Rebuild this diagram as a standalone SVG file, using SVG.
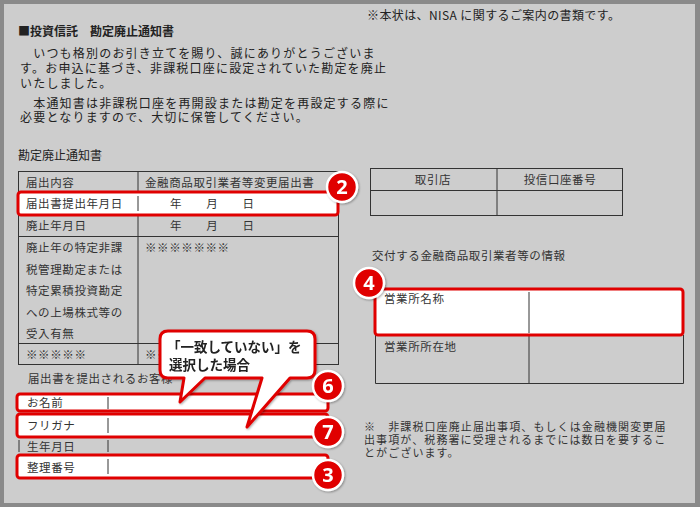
<svg xmlns="http://www.w3.org/2000/svg" width="700" height="507" viewBox="0 0 700 507">
<defs>
<style>
.t{font-family:"Noto Sans CJK JP","Liberation Serif",serif;font-size:12px;fill:#222}
.p{letter-spacing:1.2px}
.s{font-family:"Noto Sans CJK JP","Liberation Serif",serif;font-size:11.5px;fill:#333;letter-spacing:0.6px}
.n{font-size:11px;letter-spacing:1.1px}
.ln{stroke:#333;stroke-width:1;fill:none}
.hl{fill:#fff;stroke:#e00000;stroke-width:3}
.badge circle{fill:#e00000;stroke:#fff;stroke-width:2.5}
.badge text{font-family:"Noto Sans","Liberation Sans",sans-serif;font-weight:bold;font-size:20px;fill:#fff;text-anchor:middle}
.cb{font-family:"Noto Sans CJK JP",sans-serif;font-weight:bold;font-size:13.5px;fill:#222}
</style>
<filter id="sh"><feDropShadow dx="1" dy="1" stdDeviation="1" flood-opacity="0.35"/></filter>
</defs>
<rect x="0" y="0" width="700" height="507" fill="#8a8a8a"/>
<rect x="4" y="4" width="691" height="499" fill="#cdcdcd"/>
<text class="t" x="367" y="20" letter-spacing="0.4">※本状は、NISA に関するご案内の書類です。</text>
<text class="t" x="18" y="36" font-weight="bold">■投資信託　勘定廃止通知書</text>
<text class="t p" x="20" y="58">　いつも格別のお引き立てを賜り、誠にありがとうございま</text>
<text class="t p" x="20" y="73">す。お申込に基づき、非課税口座に設定されていた勘定を廃止</text>
<text class="t p" x="20" y="88">いたしました。</text>
<text class="t p" x="20" y="108">　本通知書は非課税口座を再開設または勘定を再設定する際に</text>
<text class="t p" x="20" y="122">必要となりますので、大切に保管してください。</text>
<text class="t" x="18" y="160">勘定廃止通知書</text>
<g id="left-table">
<rect class="ln" x="18.5" y="171.5" width="320" height="193"/>
<line class="ln" x1="138" y1="171" x2="138" y2="364"/>
<line class="ln" x1="18" y1="213.5" x2="338" y2="213.5"/>
<line class="ln" x1="18" y1="236.5" x2="338" y2="236.5"/>
<line class="ln" x1="18" y1="343.5" x2="338" y2="343.5"/>
<text class="s" x="26" y="187">届出内容</text>
<text class="s" x="145" y="187">金融商品取引業者等変更届出書</text>
<text class="s" x="26" y="230">廃止年月日</text>
<text class="s" x="170" y="230">年　　月　　日</text>
<text class="s" x="26" y="252">廃止年の特定非課</text>
<text class="s" x="26" y="274">税管理勘定または</text>
<text class="s" x="26" y="295">特定累積投資勘定</text>
<text class="s" x="26" y="317">への上場株式等の</text>
<text class="s" x="26" y="338">受入有無</text>
<text class="s" x="145" y="252">※※※※※※※</text>
<text class="s" x="26" y="359">※※※※※</text>
<text class="s" x="145" y="359">※※</text>
</g>
<g id="row-submit-date">
<rect class="hl" x="18" y="192" width="320" height="23" rx="3"/>
<line class="ln" x1="138" y1="196" x2="138" y2="211"/>
<text class="s" x="26" y="208">届出書提出年月日</text>
<text class="s" x="170" y="208">年　　月　　日</text>
</g>
<g id="right-table">
<rect class="ln" x="370.5" y="168.5" width="252" height="47"/>
<line class="ln" x1="497" y1="168" x2="497" y2="215"/>
<line class="ln" x1="370" y1="190.5" x2="622" y2="190.5"/>
<text class="s" x="433" y="184" text-anchor="middle">取引店</text>
<text class="s" x="560" y="184" text-anchor="middle">投信口座番号</text>
</g>
<text class="s" x="372" y="260">交付する金融商品取引業者等の情報</text>
<g id="office-address">
<path class="ln" d="M375.5 335 V383.5 H683.5 V335 M529 335 V383"/>
<text class="s" x="384" y="351">営業所所在地</text>
</g>
<g id="office-name">
<rect class="hl" x="375" y="289" width="308" height="46" rx="3"/>
<line class="ln" x1="529" y1="292" x2="529" y2="333"/>
<text class="s" x="384" y="303">営業所名称</text>
</g>
<text class="s n" x="364" y="431">※　非課税口座廃止届出事項、もしくは金融機関変更届</text>
<text class="s n" x="364" y="444">出事項が、税務署に受理されるまでには数日を要するこ</text>
<text class="s n" x="364" y="457">とがございます。</text>
<text class="s" x="28" y="383">届出書を提出されるお客様</text>
<g id="row-name">
<rect class="hl" x="17" y="394" width="311" height="17" rx="3"/>
<line class="ln" x1="108" y1="397" x2="108" y2="409"/>
<text class="s" x="27" y="407">お名前</text>
</g>
<g id="row-kana">
<rect class="hl" x="17" y="414" width="311" height="23" rx="3"/>
<line class="ln" x1="108" y1="418" x2="108" y2="433"/>
<text class="s" x="27" y="430">フリガナ</text>
</g>
<g id="row-birth">
<line class="ln" x1="19" y1="440" x2="19" y2="452"/>
<line class="ln" x1="108" y1="440" x2="108" y2="452"/>
<text class="s" x="27" y="451">生年月日</text>
</g>
<g id="row-number">
<rect class="hl" x="17" y="455" width="311" height="23" rx="3"/>
<line class="ln" x1="108" y1="459" x2="108" y2="474"/>
<text class="s" x="27" y="472">整理番号</text>
</g>
<g id="callout" filter="url(#sh)">
<path d="M168 331 H307 Q315 331 315 339 V370 Q315 378 307 378 H290 L247 427 L262 378 H205 L180 402 L184 378 H168 Q160 378 160 370 V339 Q160 331 168 331 Z" fill="#fff" stroke="#e00000" stroke-width="3" stroke-linejoin="round"/>
<text class="cb" x="167" y="352">「一致していない」を</text>
<text class="cb" x="169" y="370">選択した場合</text>
</g>
<g class="badge" filter="url(#sh)">
<g id="b2"><circle cx="342" cy="187" r="15"/><text x="342" y="194">2</text></g>
<g id="b4"><circle cx="369" cy="283" r="15"/><text x="369" y="290">4</text></g>
<g id="b6"><circle cx="328" cy="386" r="15"/><text x="328" y="393">6</text></g>
<g id="b7"><circle cx="328" cy="432" r="15"/><text x="328" y="439">7</text></g>
<g id="b3"><circle cx="328" cy="475" r="15"/><text x="328" y="482">3</text></g>
</g>
</svg>
